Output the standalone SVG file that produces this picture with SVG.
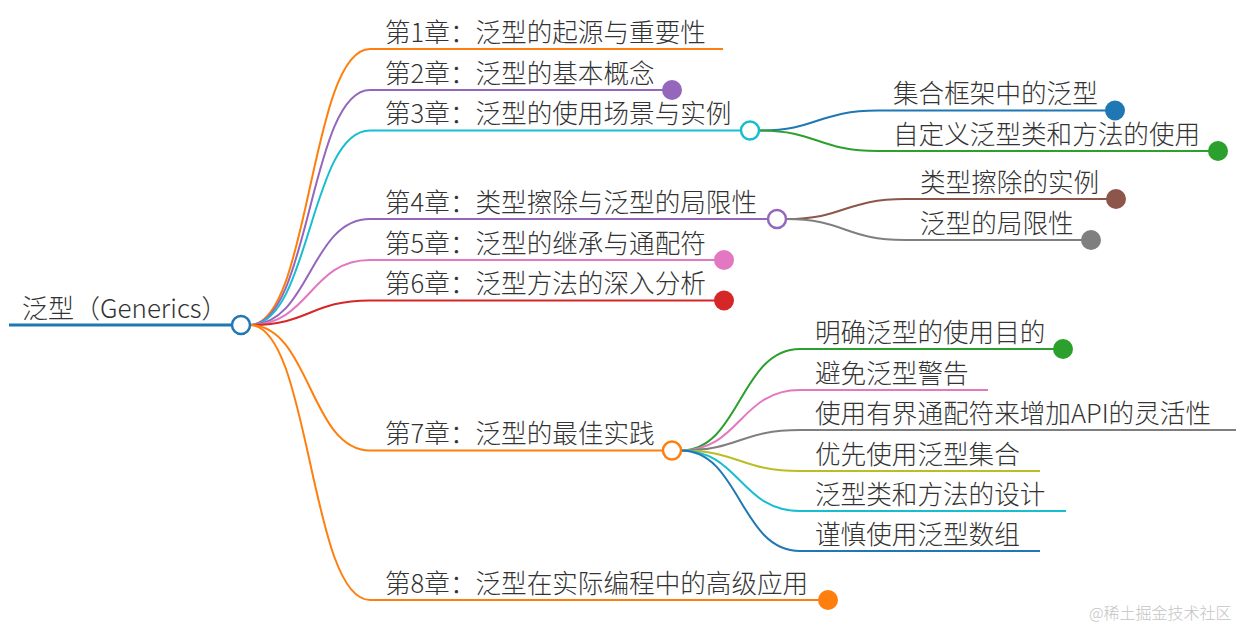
<svg xmlns="http://www.w3.org/2000/svg" width="1256" height="631" viewBox="0 0 1256 631">
<style>
text{font-family:"Noto Sans CJK SC","Noto Sans",sans-serif;font-size:25.6px;fill:#333;font-weight:300}
.l{fill:none;stroke-width:2}
.hc{fill:#fff;stroke-width:2.5}
.wm{font-size:16px;fill:#c4c4c4}
</style>
<rect width="1256" height="631" fill="#fff"/>
<g id="connectors">
<path class="l" stroke="#ff7f0e" d="M250,325 C310,325 310,49 370,49 H723"/>
<path class="l" stroke="#9467bd" d="M250,325 C310,325 310,90 370,90 H672"/>
<path class="l" stroke="#17becf" d="M250,325 C310,325 310,130.5 370,130.5 H741"/>
<path class="l" stroke="#9467bd" d="M250,325 C310,325 310,219 370,219 H768"/>
<path class="l" stroke="#e377c2" d="M250,325 C310,325 310,260 370,260 H724"/>
<path class="l" stroke="#d62728" d="M250,325 C310,325 310,300.5 370,300.5 H724"/>
<path class="l" stroke="#ff7f0e" d="M250,325 C310,325 310,450.5 370,450.5 H663"/>
<path class="l" stroke="#ff7f0e" d="M250,325 C310,325 310,600 370,600 H828"/>
<path class="l" stroke="#1f77b4" d="M759,130.5 C818,130.5 818,110.5 878,110.5 H1115"/>
<path class="l" stroke="#2ca02c" d="M759,130.5 C818,130.5 818,151 878,151 H1218"/>
<path class="l" stroke="#8c564b" d="M786,219 C845,219 845,199 905,199 H1116"/>
<path class="l" stroke="#7f7f7f" d="M786,219 C845,219 845,240 905,240 H1091"/>
<path class="l" stroke="#2ca02c" d="M681,450.5 C740,450.5 740,349 800,349 H1063"/>
<path class="l" stroke="#e377c2" d="M681,450.5 C740,450.5 740,390 800,390 H988"/>
<path class="l" stroke="#7f7f7f" d="M681,450.5 C740,450.5 740,430 800,430 H1236"/>
<path class="l" stroke="#bcbd22" d="M681,450.5 C740,450.5 740,471 800,471 H1040"/>
<path class="l" stroke="#17becf" d="M681,450.5 C740,450.5 740,511 800,511 H1066"/>
<path class="l" stroke="#1f77b4" d="M681,450.5 C740,450.5 740,551 800,551 H1040"/>
</g>
<g id="root">
<path d="M9,325 H232" stroke="#1f77b4" stroke-width="3" fill="none"/>
<text x="22" y="318" style="font-size:26px">泛型（Generics）</text>
<circle class="hc" cx="241" cy="325" r="9" stroke="#1f77b4"/>
</g>
<g id="ch1"><text x="385" y="42">第1章：泛型的起源与重要性</text></g>
<g id="ch2"><text x="385" y="83">第2章：泛型的基本概念</text><circle cx="672" cy="90" r="10" fill="#9467bd"/></g>
<g id="ch3"><text x="385" y="123">第3章：泛型的使用场景与实例</text><circle class="hc" cx="750" cy="130.5" r="9" stroke="#17becf"/></g>
<g id="ch3a"><text x="893" y="103">集合框架中的泛型</text><circle cx="1115" cy="110.5" r="10" fill="#1f77b4"/></g>
<g id="ch3b"><text x="893" y="144">自定义泛型类和方法的使用</text><circle cx="1218" cy="151" r="10" fill="#2ca02c"/></g>
<g id="ch4"><text x="385" y="212">第4章：类型擦除与泛型的局限性</text><circle class="hc" cx="777" cy="219" r="9" stroke="#9467bd"/></g>
<g id="ch4a"><text x="920" y="192">类型擦除的实例</text><circle cx="1116" cy="199" r="10" fill="#8c564b"/></g>
<g id="ch4b"><text x="920" y="233">泛型的局限性</text><circle cx="1091" cy="240" r="10" fill="#7f7f7f"/></g>
<g id="ch5"><text x="385" y="253">第5章：泛型的继承与通配符</text><circle cx="724" cy="260" r="10" fill="#e377c2"/></g>
<g id="ch6"><text x="385" y="293">第6章：泛型方法的深入分析</text><circle cx="724" cy="300.5" r="10" fill="#d62728"/></g>
<g id="ch7"><text x="385" y="443">第7章：泛型的最佳实践</text><circle class="hc" cx="672" cy="450.5" r="9" stroke="#ff7f0e"/></g>
<g id="ch7a"><text x="815" y="342">明确泛型的使用目的</text><circle cx="1063" cy="349" r="10" fill="#2ca02c"/></g>
<g id="ch7b"><text x="815" y="383">避免泛型警告</text></g>
<g id="ch7c"><text x="815" y="423">使用有界通配符来增加API的灵活性</text></g>
<g id="ch7d"><text x="815" y="464">优先使用泛型集合</text></g>
<g id="ch7e"><text x="815" y="504">泛型类和方法的设计</text></g>
<g id="ch7f"><text x="815" y="544">谨慎使用泛型数组</text></g>
<g id="ch8"><text x="385" y="593">第8章：泛型在实际编程中的高级应用</text><circle cx="828" cy="600" r="10" fill="#ff7f0e"/></g>
<text class="wm" x="1089" y="619">@稀土掘金技术社区</text>
</svg>
